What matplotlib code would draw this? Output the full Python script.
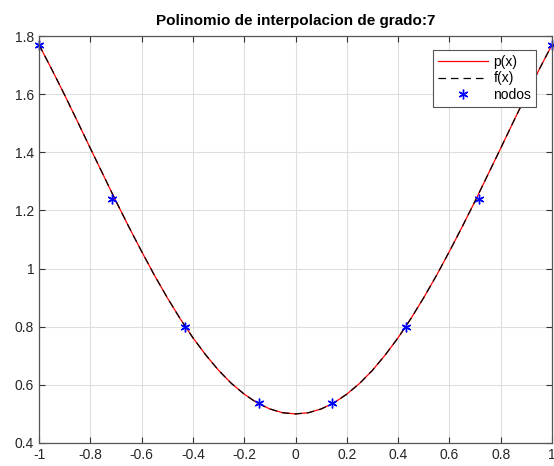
import numpy as np
import matplotlib

matplotlib.use("Agg")
import matplotlib.pyplot as plt

plt.rcParams["font.family"] = ["Liberation Sans", "DejaVu Sans"]

# curve samples (x from -1 to 1, step 0.05)
x_curve = [-1.0, -0.95, -0.9, -0.85, -0.8, -0.75, -0.7, -0.65, -0.6, -0.55,
           -0.5, -0.45, -0.4, -0.35, -0.3, -0.25, -0.2, -0.15, -0.1, -0.05,
           0.0, 0.05, 0.1, 0.15, 0.2, 0.25, 0.3, 0.35, 0.4, 0.45,
           0.5, 0.55, 0.6, 0.65, 0.7, 0.75, 0.8, 0.85, 0.9, 0.95, 1.0]
f_curve = [1.770, 1.685, 1.597, 1.506, 1.414, 1.323, 1.232, 1.144, 1.059, 0.977,
           0.900, 0.828, 0.762, 0.703, 0.650, 0.605, 0.568, 0.538, 0.517, 0.504,
           0.500, 0.504, 0.517, 0.538, 0.568, 0.605, 0.650, 0.703, 0.762, 0.828,
           0.900, 0.977, 1.059, 1.144, 1.232, 1.323, 1.414, 1.506, 1.597, 1.685, 1.770]
p_curve = list(f_curve)

# interpolation nodes
x_nodes = [-1.0, -0.714, -0.429, -0.143, 0.143, 0.429, 0.714, 1.0]
y_nodes = [1.770, 1.240, 0.800, 0.537, 0.537, 0.800, 1.240, 1.770]

fig = plt.figure(figsize=(5.54, 4.66), dpi=100)
ax = fig.add_axes([0.0704, 0.0494, 0.926, 0.8733])

ax.plot(x_curve, p_curve, color="red", lw=0.9, label="p(x)")
ax.plot(x_curve, f_curve, color="black", lw=0.9, ls=(0, (6, 4)), label="f(x)")
# asterisk marker, MATLAB style
ax.plot(x_nodes, y_nodes, ls="none", marker=(6, 2, 0), color="blue", ms=7,
        markeredgewidth=1.0, label="nodos", clip_on=False)

ax.set_xlim(-1, 1)
ax.set_ylim(0.4, 1.8)
ax.set_xticks(np.arange(-1, 1.01, 0.2))
ax.set_xticklabels(["-1", "-0.8", "-0.6", "-0.4", "-0.2", "0", "0.2", "0.4", "0.6", "0.8", "1"])
ax.set_yticks(np.arange(0.4, 1.81, 0.2))
ax.set_yticklabels(["0.4", "0.6", "0.8", "1", "1.2", "1.4", "1.6", "1.8"])

ax.grid(True, color="#dedede", lw=0.8)
ax.set_axisbelow(True)
ax.tick_params(direction="in", length=4, width=0.8, top=True, right=True,
               colors="#333333", labelsize=10, labelcolor="#262626")
for s in ax.spines.values():
    s.set_color("#555555")
    s.set_linewidth(0.9)

ax.set_title("Polinomio de interpolacion de grado:7", fontsize=11,
             fontweight="bold", pad=8)

leg = ax.legend(loc="upper right", fontsize=10, handlelength=3.6,
                handletextpad=0.4, borderpad=0.35, labelspacing=0.2,
                borderaxespad=0, fancybox=False, framealpha=1,
                edgecolor="#555555", bbox_to_anchor=(0.969, 0.966))
leg.get_frame().set_linewidth(0.8)

fig.savefig("out.png", dpi=100)
